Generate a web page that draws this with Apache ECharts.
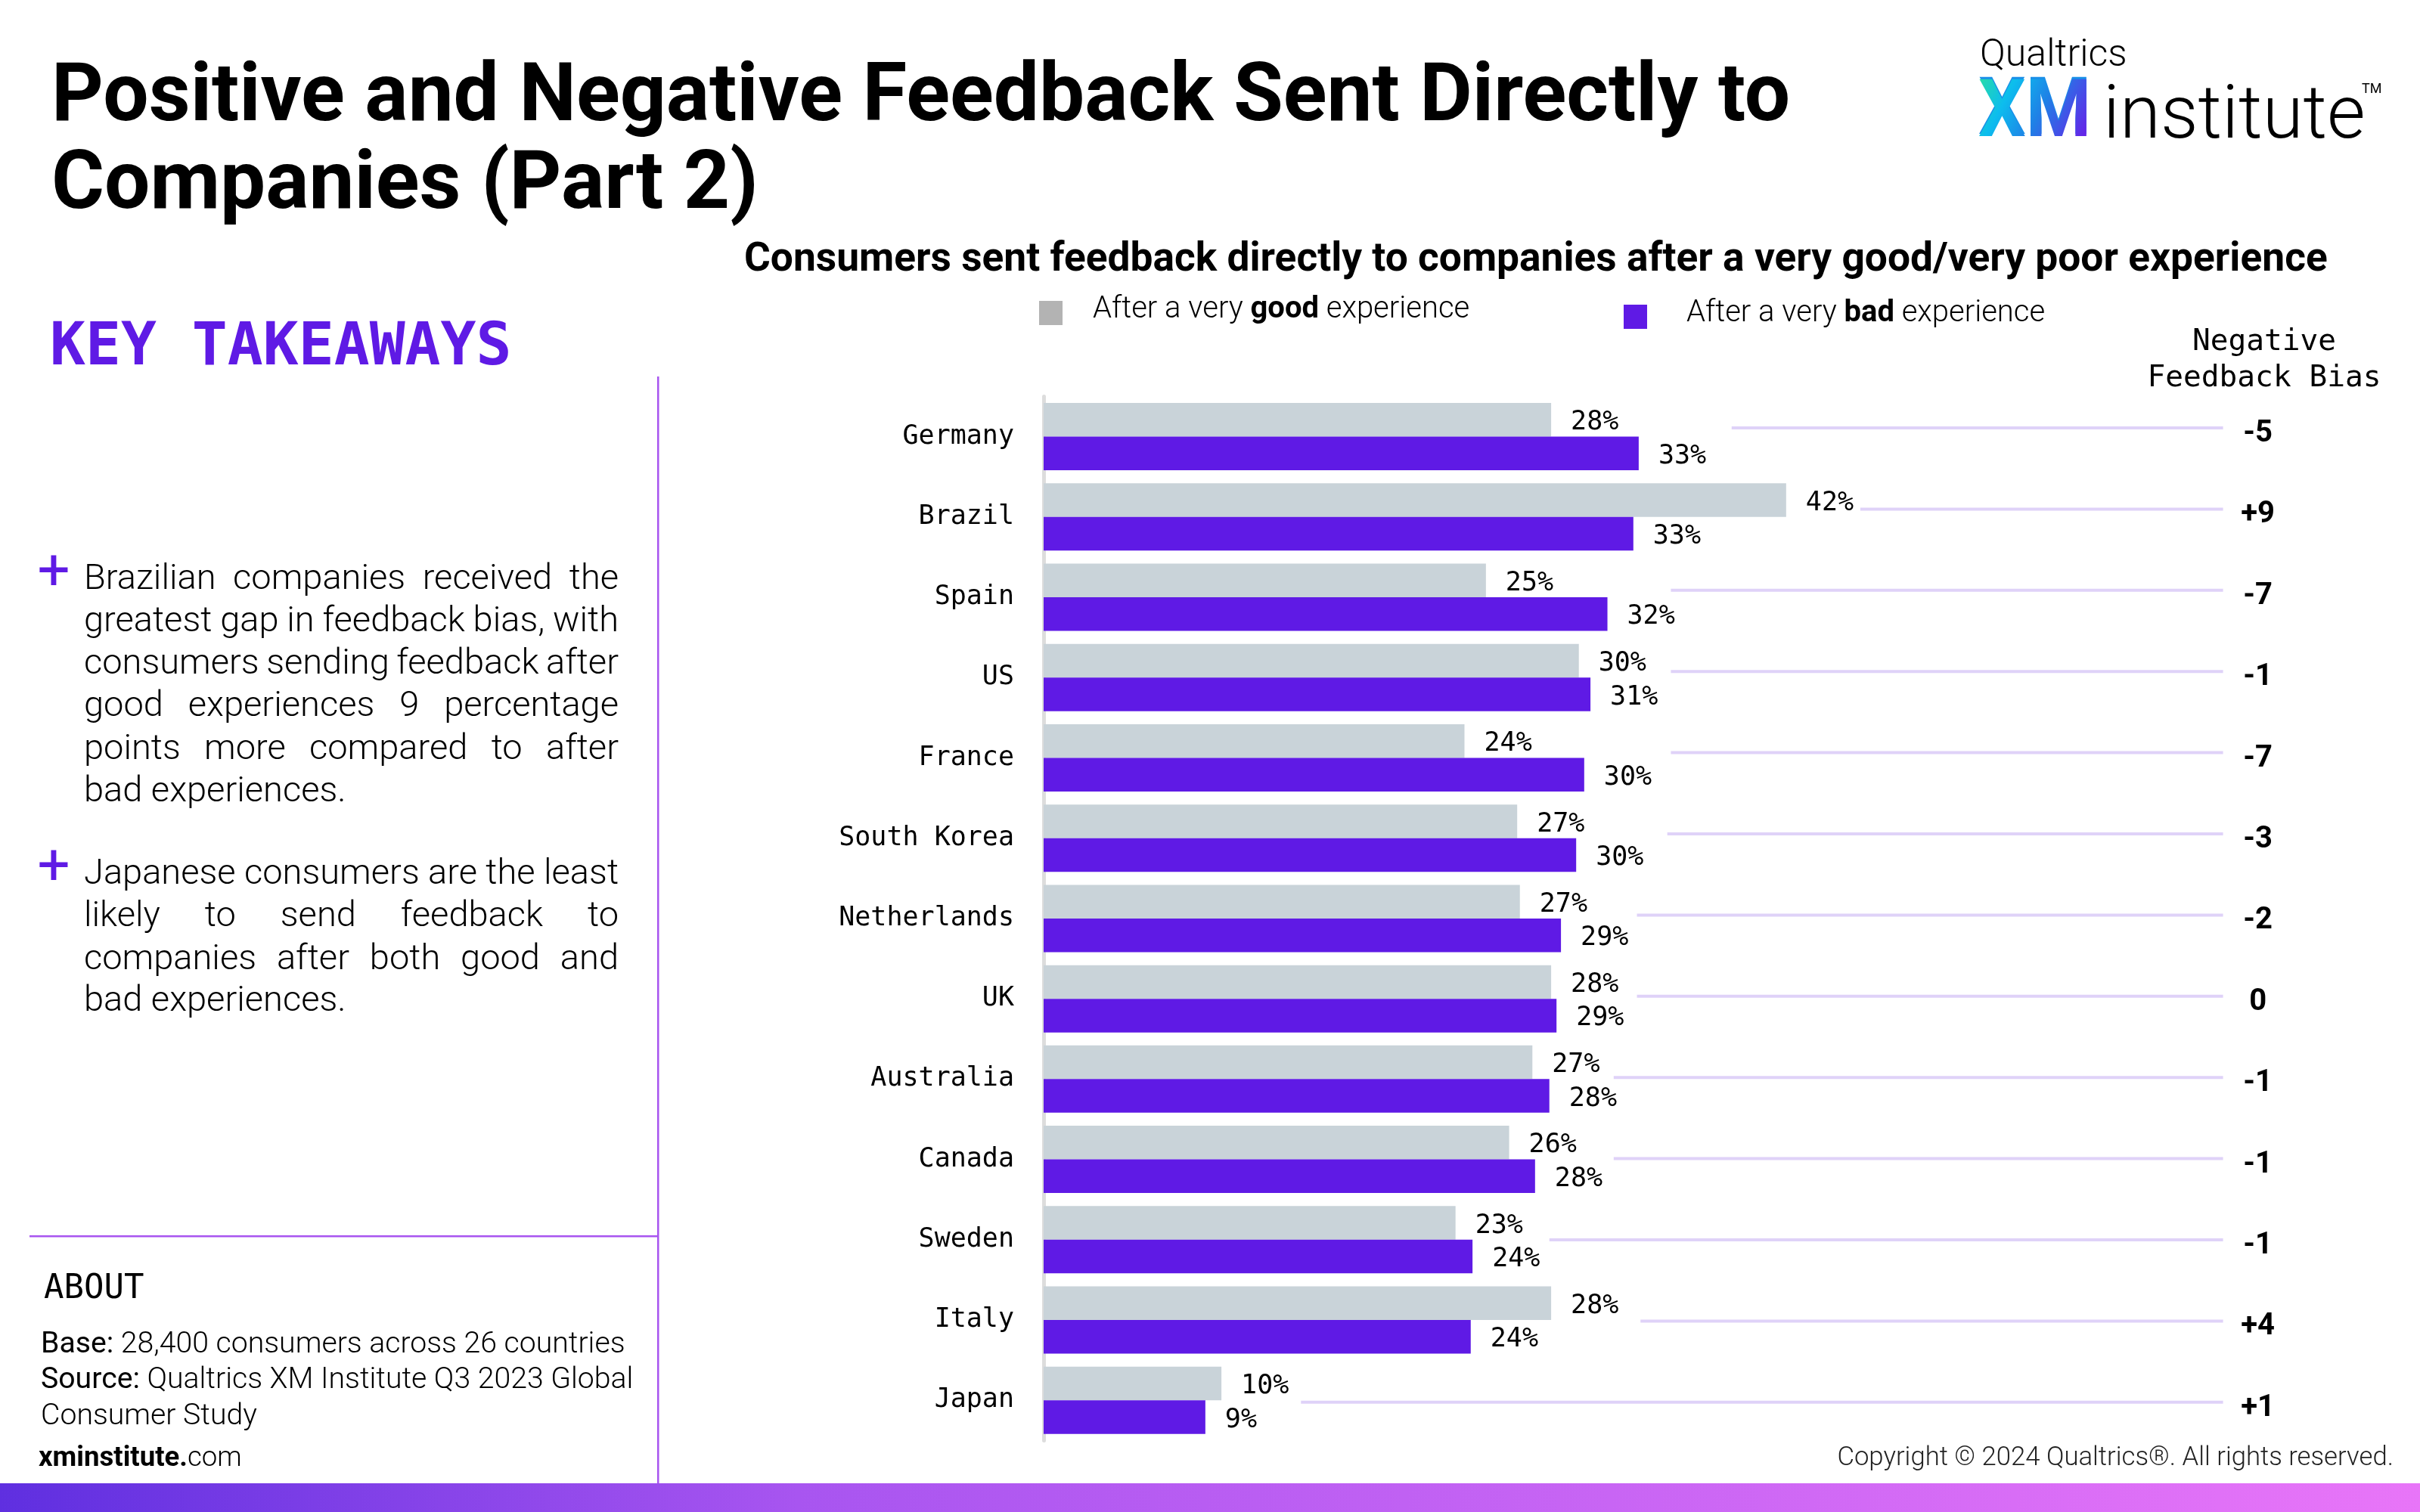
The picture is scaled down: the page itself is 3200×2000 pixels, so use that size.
<!DOCTYPE html>
<html><head><meta charset="utf-8">
<script src="https://cdn.jsdelivr.net/npm/echarts@6/dist/echarts.min.js"></script>
<style>html,body{margin:0;padding:0;background:#fff}#c{width:3200px;height:2000px}</style>
</head><body><div id="c"></div>
<script>
const countries = ['Germany','Brazil','Spain','US','France','South Korea','Netherlands','UK','Australia','Canada','Sweden','Italy','Japan'];
const goodValues = [28.4,41.55,24.75,29.95,23.55,26.5,26.65,28.4,27.35,26.05,23.05,28.4,9.95];
const badValues  = [33.3,33.0,31.55,30.6,30.25,29.8,28.95,28.7,28.3,27.5,24.0,23.9,9.05];
const biasLabels = ['-5','+9','-7','-1','-7','-3','-2','0','-1','-1','-1','+4','+1'];
const connectorFrom = [38.5,45.7,35.1,35.1,35.1,34.9,33.2,33.2,31.9,31.9,28.3,33.4,14.4];
const axisMax = 66;
const goodName = 'After a very good experience';
const badName = 'After a very bad experience';
const titleText = 'Positive and Negative Feedback Sent Directly to\nCompanies (Part 2)';
const subtitleText = 'Consumers sent feedback directly to companies after a very good/very poor experience';
const biasTitle = ['Negative','Feedback Bias'];
const para1 = ['Brazilian companies received the','greatest gap in feedback bias, with','consumers sending feedback after','good experiences 9 percentage','points more compared to after','bad experiences.'];
const para2 = ['Japanese consumers are the least','likely to send feedback to','companies after both good and','bad experiences.'];
const copyrightText = 'Copyright © 2024 Qualtrics®. All rights reserved.';

const PURPLE='#5F1AE5', LINE='#A855F0', MONO='"DejaVu Sans Mono"', SANS='Roboto';
const mctx=document.createElement('canvas').getContext('2d');
function tx(text,x,y,o){o=o||{};return {type:'text',x:x,y:y,scaleX:o.scaleX||1,silent:true,style:{text:text,fill:o.fill||'#000',font:(o.weight||300)+' '+(o.size||46)+'px '+(o.family||SANS),textAlign:o.align||'left',textVerticalAlign:o.va||'middle'}};}
function mixed(a,b,x,y,size){return {type:'text',x:x,y:y,silent:true,style:{text:'{a|'+a+'}{b|'+b+'}',textVerticalAlign:'middle',rich:{a:{font:'400 '+size+'px '+SANS,fill:'#000'},b:{font:'300 '+size+'px '+SANS,fill:'#000'}}}};}
function bodyLines(lines,ys,size){const out=[];const L=111,R=818;lines.forEach((ln,i)=>{
  const just=i<lines.length-1;const font='300 '+size+'px '+SANS;mctx.font=font;
  if(!just){out.push(tx(ln,L,ys[i],{size:size}));return;}
  const words=ln.split(' ');const ws=words.map(w=>mctx.measureText(w).width);const total=ws.reduce((a,b)=>a+b,0);
  const gap=(R-L-total)/(words.length-1);let x=L;words.forEach((w,k)=>{out.push(tx(w,x,ys[i],{size:size}));x+=ws[k]+gap;});
});return out;}

// gradient rendering of the logo's "XM" lettering, laid over the same real text
const xmCanvas=document.createElement('canvas');xmCanvas.width=170;xmCanvas.height=100;
(function(){const c=xmCanvas.getContext('2d');const g=c.createLinearGradient(0,5,147,90);
  g.addColorStop(0,'#2ADFA0');g.addColorStop(.3,'#0CBDEE');g.addColorStop(.6,'#1F80E6');g.addColorStop(1,'#6426E8');
  c.scale(.94,1);c.fillStyle=g;c.font='700 105px '+SANS;c.textBaseline='alphabetic';c.fillText('XM',0,90);})();

const graphic=[
  {type:'rect',shape:{x:0,y:1962,width:3200,height:38},silent:true,style:{fill:{type:'linear',x:0,y:0,x2:1,y2:0,colorStops:[{offset:0,color:'#5F2FE0'},{offset:.33,color:'#A855F0'},{offset:1,color:'#E875F8'}]}}},
  {type:'rect',shape:{x:869,y:498,width:2.5,height:1464},silent:true,style:{fill:LINE}},
  {type:'rect',shape:{x:39,y:1634,width:831,height:2.5},silent:true,style:{fill:LINE}},
  tx('KEY TAKEAWAYS',66,462,{size:78,weight:700,family:MONO,fill:PURPLE}),
  tx('+',71,761,{size:76,weight:400,fill:PURPLE,align:'center'}),
  tx('+',71,1151,{size:76,weight:400,fill:PURPLE,align:'center'}),
  ...bodyLines(para1,[767,823,879,935,992,1048],47),
  ...bodyLines(para2,[1157,1213,1270,1325],47),
  tx('ABOUT',58,1706,{size:44,weight:400,family:MONO}),
  mixed('Base:',' 28,400 consumers across 26 countries',54,1779,39.2),
  mixed('Source:',' Qualtrics XM Institute Q3 2023 Global',54,1826,39.2),
  tx('Consumer Study',54,1874,{size:39.2}),
  {type:'text',x:51,y:1930,silent:true,style:{text:'{a|xminstitute.}{b|com}',textVerticalAlign:'middle',rich:{a:{font:'700 36.6px '+SANS,fill:'#000'},b:{font:'300 36.6px '+SANS,fill:'#000'}}}},
  tx(copyrightText,3165,1929,{size:34.7,align:'right',fill:'#222'}),
  tx(biasTitle[0],2994,453,{size:39.5,weight:400,family:MONO,align:'center'}),
  tx(biasTitle[1],2994,501,{size:39.5,weight:400,family:MONO,align:'center'}),
  tx('Qualtrics',2618,74,{size:50,weight:300}),
  tx('XM',2616,203,{size:105,weight:700,va:'bottom',scaleX:.94,fill:'#1A8FE8'}),
  {type:'image',x:2616,y:90,silent:true,z:10,style:{image:xmCanvas,width:170,height:100}},
  tx('institute',2781,206,{size:98,weight:300,va:'bottom'}),
  tx('TM',3123,118,{size:18,weight:400})
];

const chart=echarts.init(document.getElementById('c'),null,{renderer:'canvas'});
const legendRich=w=>({s:{width:w},a:{fontFamily:SANS,fontWeight:300,fontSize:40,color:'#000',padding:[0,0,8,0]},b:{fontFamily:SANS,fontWeight:700,fontSize:40,color:'#000',padding:[0,0,8,0]}});
const pct=p=>Math.round(p.value)+'%';
const labelStyle={show:true,position:'right',distance:26,offset:[0,4],fontFamily:MONO,fontSize:35,color:'#000',formatter:pct};
chart.setOption({
  animation:false,backgroundColor:'#fff',
  title:[
    {text:titleText,left:68,top:74,padding:0,textStyle:{fontFamily:SANS,fontWeight:700,fontSize:107,lineHeight:116,color:'#000'}},
    {text:subtitleText,left:984,top:311,padding:0,textStyle:{fontFamily:SANS,fontWeight:700,fontSize:53.3,lineHeight:68,color:'#000'}}
  ],
  legend:[
    {data:[{name:goodName,itemStyle:{color:'#B3B3B3'}}],icon:'rect',left:1374,top:390,itemWidth:31,itemHeight:32,selectedMode:false,padding:0,
     formatter:()=>'{s|}{a|After a very }{b|good}{a| experience}',textStyle:{rich:legendRich(35)}},
    {data:[{name:badName,itemStyle:{color:PURPLE}}],icon:'rect',left:2147,top:395,itemWidth:31,itemHeight:32,selectedMode:false,padding:0,
     formatter:()=>'{s|}{a|After a very }{b|bad}{a| experience}',textStyle:{rich:legendRich(47)}}
  ],
  grid:[
    {left:1380,top:524.4,width:1559.6,height:1381},
    {left:1380,top:520.3,width:1559.6,height:1396.2}
  ],
  xAxis:[
    {type:'value',gridIndex:0,min:0,max:axisMax,show:false},
    {type:'value',gridIndex:1,min:0,max:axisMax,show:false}
  ],
  yAxis:[
    {type:'category',gridIndex:0,data:countries,inverse:true,axisTick:{show:false},axisLine:{lineStyle:{color:'#DDDDDD',width:5}},
     axisLabel:{margin:39,fontFamily:MONO,fontSize:35,color:'#000',interval:0}},
    {type:'category',gridIndex:1,data:biasLabels,inverse:true,position:'right',axisTick:{show:false},axisLine:{show:false},
     axisLabel:{margin:46,align:'center',fontFamily:SANS,fontWeight:700,fontSize:40,color:'#000',interval:0}}
  ],
  series:[
    {name:goodName,type:'bar',data:goodValues,barWidth:44.5,barGap:0,itemStyle:{color:'#C9D3D9'},label:labelStyle},
    {name:badName,type:'bar',data:badValues,barWidth:44.5,barGap:0,itemStyle:{color:PURPLE},label:labelStyle},
    {type:'custom',silent:true,xAxisIndex:1,yAxisIndex:1,data:connectorFrom.map((v,i)=>[i,v,axisMax]),encode:{x:[1,2],y:0},clip:false,
     renderItem:(params,api)=>{const a=api.coord([api.value(1),api.value(0)]),b=api.coord([api.value(2),api.value(0)]);
       return {type:'line',shape:{x1:a[0],y1:a[1]-8,x2:b[0],y2:b[1]-8},style:{stroke:'#DFD2F8',lineWidth:4}};}}
  ],
  graphic:{elements:graphic}
});
</script></body></html>
